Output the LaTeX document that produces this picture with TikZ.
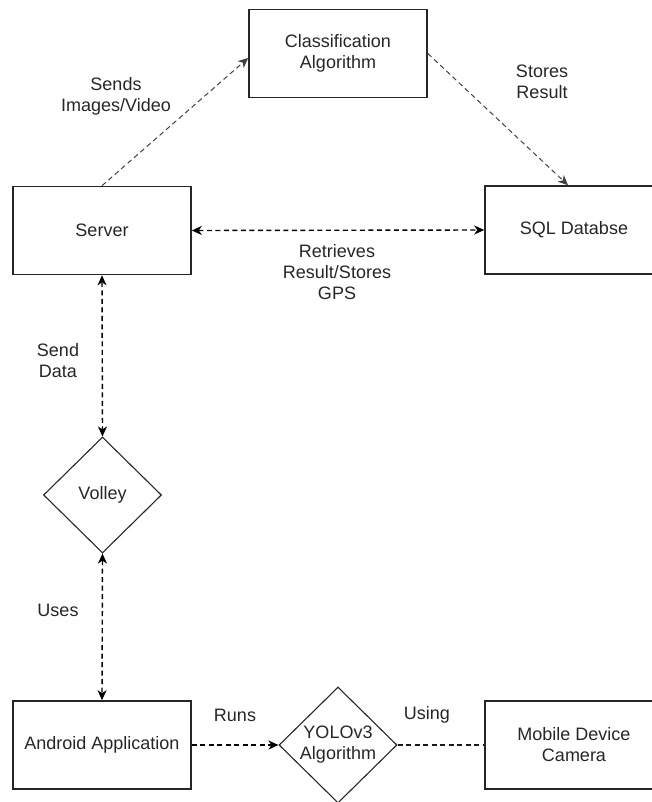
\documentclass[tikz,border=0pt]{standalone}
\usepackage{fontspec}
\setmainfont{Liberation Sans}
\usetikzlibrary{shapes.geometric,arrows.meta}
\begin{document}
\begin{tikzpicture}[x=1pt,y=1pt,
  font=\fontsize{18}{21}\selectfont,
  txt/.style={text=black!85, align=center},
  box/.style={draw=black!85, line width=1.6pt, minimum width=178pt, minimum height=88pt, inner sep=0pt, txt},
  dia/.style={draw=black!85, line width=1.1pt, shape=diamond, aspect=1, minimum width=118pt, minimum height=116pt, inner sep=0pt, txt},
  lbl/.style={txt, inner sep=0pt},
  link/.style={draw=black, line width=1.4pt, dash pattern=on 5pt off 3.5pt},
  thinlink/.style={draw=black!75, line width=1pt, dash pattern=on 5pt off 3.5pt},
  plainlink/.style={draw=black!90, line width=1.2pt, dash pattern=on 5pt off 3.5pt},
  tip/.style={-{Stealth[length=10pt,width=9pt,inset=3pt]}},
  tips/.style={{Stealth[length=10pt,width=9pt,inset=3pt]}-{Stealth[length=10pt,width=9pt,inset=3pt]}}
]
\useasboundingbox (0,0) rectangle (651,-802);

\node[box] (cls) at (338,-53.5) {Classification\\Algorithm};
\node[box] (server) at (102,-230.5) {Server};
\node[box] (sql) at (574,-230) {SQL Databse};
\node[dia] (volley) at (102.5,-495) {Volley};
\node[box] (android) at (102,-745) {Android Application};
\node[dia] (yolo) at (338,-745) {YOLOv3\\Algorithm};
\node[box] (cam) at (574,-745) {Mobile Device\\Camera};

\draw[thinlink,tip] (server.north) -- ([yshift=-4.5pt]cls.west);
\draw[thinlink,tip] (cls.east) -- ([xshift=-6pt]sql.north);
\draw[link,tips] (server.east) -- (sql.west);
\draw[link,tips] (server.south) -- (volley.north);
\draw[link,tips] (volley.south) -- (android.north);
\draw[link,tip] (android.east) -- (yolo.west);
\draw[plainlink] (yolo.east) -- (cam.west);

\node[lbl] (l1) at (116,-96) {Sends\\Images/Video};
\node[lbl] (l2) at (542,-81.5) {Stores\\Result};
\node[lbl] (l3) at (337,-272) {Retrieves\\Result/Stores\\GPS};
\node[lbl] (l4) at (58,-361) {Send\\Data};
\node[lbl] (l5) at (58,-610) {Uses};
\node[lbl] (l6) at (235,-715) {Runs};
\node[lbl] (l7) at (427,-715) {Using};
\end{tikzpicture}
\end{document}
